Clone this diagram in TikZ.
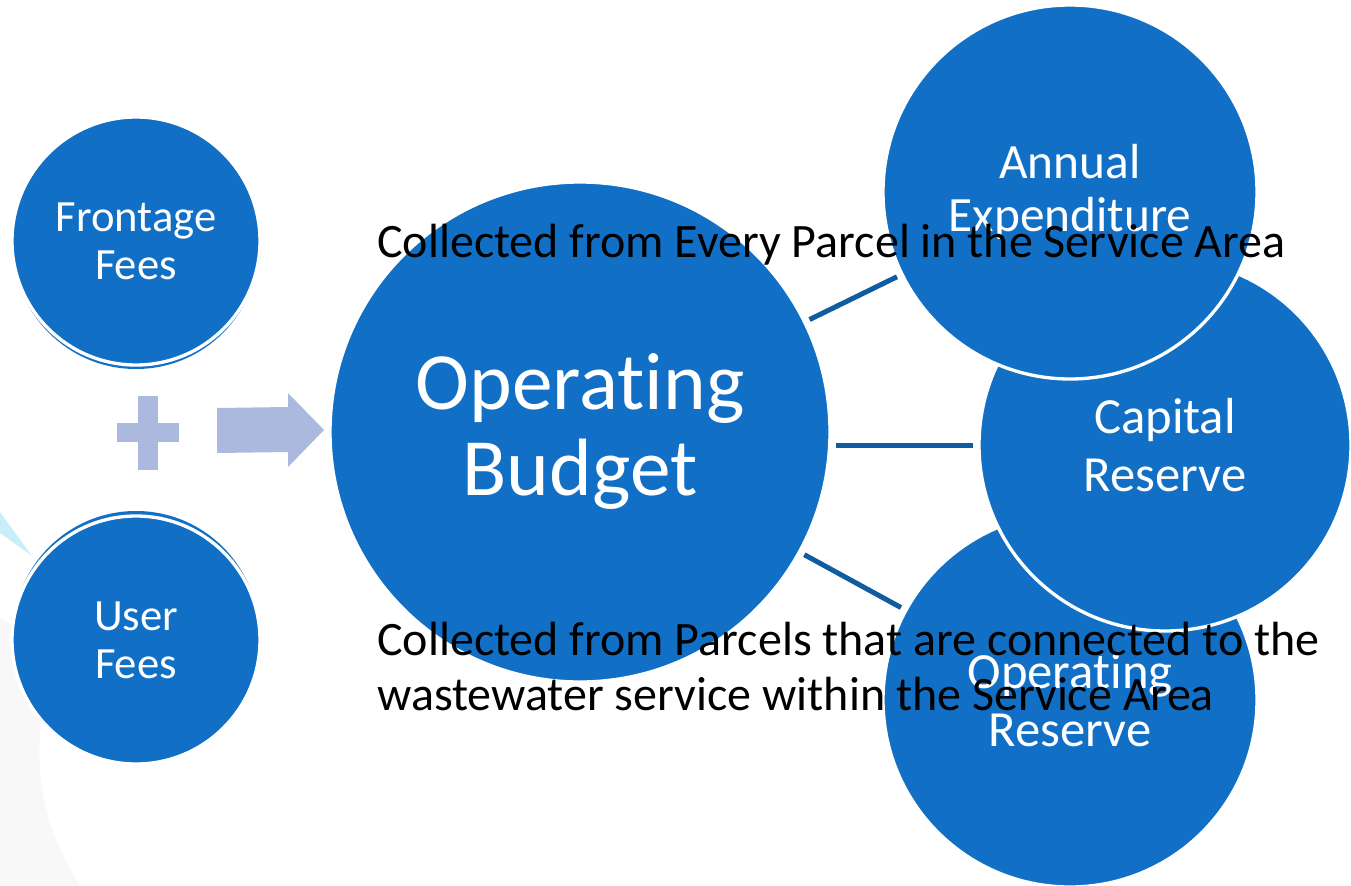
\documentclass[tikz,border=0pt]{standalone}
\usepackage{fontspec}
\setmainfont{Carlito}[Ligatures=NoCommon]
\usetikzlibrary{positioning, calc}

\definecolor{fundblue}{RGB}{17,112,198}
\definecolor{linkblue}{RGB}{16,92,160}
\definecolor{plusblue}{RGB}{172,185,222}
\definecolor{wedgecyan}{RGB}{200,238,250}
\definecolor{fadegray}{RGB}{248,248,248}

\tikzset{
  fund/.style={circle, fill=fundblue, draw=white, line width=2.5pt, text=white, align=center, inner sep=0pt},
  rim/.style={circle, fill=fundblue, inner sep=0pt},
  link/.style={draw=linkblue, line width=3.75pt, shorten <=3pt, shorten >=3pt},
  note/.style={text=black, align=left, inner sep=0pt, font=\fontsize{36}{41.25}\selectfont},
}

\begin{document}
\begin{tikzpicture}[x=0.75pt, y=-0.75pt,
    smallfont/.style={font=\fontsize{33.5}{36}\selectfont},
    bigfont/.style={font=\fontsize{38}{43.5}\selectfont}]
    \useasboundingbox (0,0) rectangle (1351,885);

    % faint backdrop shapes on the left
    \fill[fadegray] (0,618) .. controls (30,630) and (42,680) .. (40,733)
        .. controls (36,790) and (50,840) .. (80,885) -- (0,885) -- cycle;
    \fill[wedgecyan] (0,512) -- (32,556) -- (0,533) -- cycle;

    % sources
    \node[rim, minimum size=184.5pt] (frontrim) at (136,246) {};
    \node[fund, smallfont, minimum size=186pt] (front) at (136,241) {Frontage\\Fees};
    \node[rim, minimum size=184.5pt] (userrim) at (136,634) {};
    \node[fund, smallfont, minimum size=186pt] (user) at (136,640) {User\\Fees};

    % plus and block arrow
    \fill[plusblue] (138,396) rectangle (158,470);
    \fill[plusblue] (117,423) rectangle (179,442);
    \fill[plusblue] (217,408) -- (288,407) -- (288,393) -- (324,430)
        -- (288,467) -- (288,452) -- (217,453) -- cycle;

    % budget and its uses
    \node[fund, minimum size=375pt, font=\fontsize{61}{64.5}\selectfont] (budget) at (580,432) {Operating\\Budget};
    \node[fund, bigfont, minimum size=280.5pt] (opres) at (1070,700) {Operating\\Reserve};
    \node[fund, bigfont, minimum size=279pt] (capres) at (1165,445) {Capital\\Reserve};
    \node[fund, font=\fontsize{37}{39.5}\selectfont, minimum size=280.5pt] (annual) at (1070,192) {Annual\\Expenditure};

    \draw[link] (budget) -- (annual);
    \draw[link] (capres.west -| budget.east) -- (capres.west);
    \draw[link] (budget) -- (opres);

    % notes
    \node[note, anchor=base west] (everynote) at (377,257) {Collected from Every Parcel in the Service Area};
    \node[note, anchor=base west] (usernote) at (377,710) {Collected from Parcels that are connected to the\\wastewater service within the Service Area};
\end{tikzpicture}
\end{document}
